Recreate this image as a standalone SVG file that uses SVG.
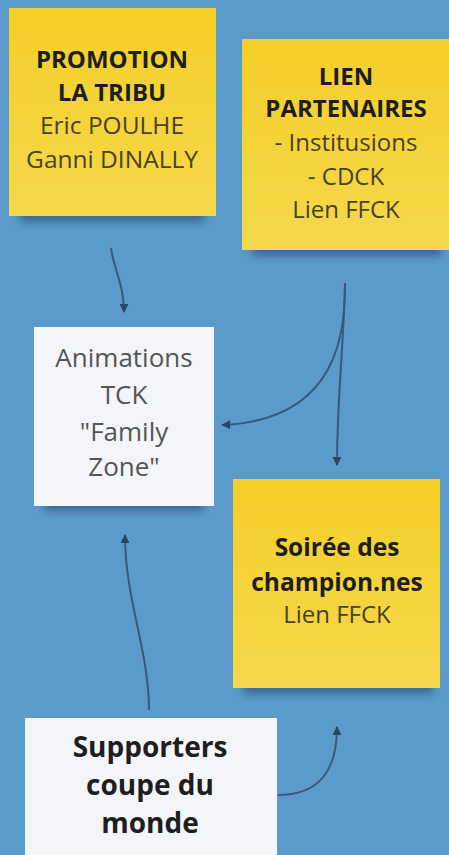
<svg xmlns="http://www.w3.org/2000/svg" width="449" height="855" viewBox="0 0 449 855">
<defs>
<style>
text{font-family:"Open Sans","Noto Sans","Liberation Sans",sans-serif;text-anchor:middle;}
.b{font-weight:bold;fill:#1e1e1e;}
.ry{fill:#4a4222;}
.rw{fill:#555555;}
.wht{fill:#f4f5f8;}
.sh{fill:#1f3f63;opacity:0.55;filter:url(#blur);}
.con{fill:none;stroke:#39597a;stroke-width:2;}
</style>
<filter id="blur" x="-20%" y="-50%" width="140%" height="200%"><feGaussianBlur stdDeviation="4"/></filter>
<linearGradient id="gy" x1="0" y1="0" x2="0" y2="1"><stop offset="0" stop-color="#f4cf28"/><stop offset="1" stop-color="#f4d84c"/></linearGradient>
<marker id="arr" viewBox="0 0 10 10" refX="9" refY="5" markerWidth="4.5" markerHeight="4.5" orient="auto-start-reverse" markerUnits="strokeWidth">
<path d="M0,0 L10,5 L0,10 z" fill="#2e4660"/>
</marker>
</defs>
<rect width="449" height="855" fill="#5b9bcb"/>

<g id="connectors">
<path class="con" d="M111,248 C114,270 124,285 124,312" marker-end="url(#arr)"/>
<path class="con" d="M345,283 C345,330 340,420 222,425" marker-end="url(#arr)"/>
<path class="con" d="M345,283 C344,340 337,400 337,465" marker-end="url(#arr)"/>
<path class="con" d="M149,710 C149,650 125,600 125,535" marker-end="url(#arr)"/>
<path class="con" d="M278,795 C320,795 337,770 337,727" marker-end="url(#arr)"/>
</g>

<g id="promotion">
<rect class="sh" x="20" y="206" width="185" height="16"/>
<rect x="9" y="8" width="207" height="208" fill="url(#gy)"/>
<text class="b" x="112" y="68" font-size="24">PROMOTION</text>
<text class="b" x="112" y="101" font-size="24">LA TRIBU</text>
<text class="ry" x="112" y="134" font-size="24.5">Eric POULHE</text>
<text class="ry" x="112" y="168" font-size="24.5">Ganni DINALLY</text>
</g>

<g id="partenaires">
<rect class="sh" x="252" y="240" width="190" height="16"/>
<rect x="242" y="39" width="207" height="211" fill="url(#gy)"/>
<text class="b" x="346" y="85" font-size="24">LIEN</text>
<text class="b" x="346" y="117" font-size="24">PARTENAIRES</text>
<text class="ry" x="346" y="151" font-size="24">- Institusions</text>
<text class="ry" x="346" y="185" font-size="24">- CDCK</text>
<text class="ry" x="346" y="218" font-size="24">Lien FFCK</text>
</g>

<g id="animations">
<rect class="sh" x="44" y="497" width="160" height="14"/>
<rect class="wht" x="34" y="327" width="180" height="179"/>
<text class="rw" x="124" y="367" font-size="26">Animations</text>
<text class="rw" x="124" y="404" font-size="26">TCK</text>
<text class="rw" x="124" y="441" font-size="26">"Family</text>
<text class="rw" x="124" y="476" font-size="26">Zone"</text>
</g>

<g id="soiree">
<rect class="sh" x="243" y="678" width="190" height="16"/>
<rect x="233" y="479" width="207" height="209" fill="url(#gy)"/>
<text class="b" x="337" y="556" font-size="24.5">Soirée des</text>
<text class="b" x="337" y="591" font-size="24.5">champion.nes</text>
<text class="ry" x="337" y="623" font-size="24">Lien FFCK</text>
</g>

<g id="supporters">
<rect class="wht" x="25" y="718" width="252" height="137"/>
<text class="b" x="150" y="757" font-size="28">Supporters</text>
<text class="b" x="150" y="795" font-size="28">coupe du</text>
<text class="b" x="150" y="833" font-size="28">monde</text>
</g>
</svg>
